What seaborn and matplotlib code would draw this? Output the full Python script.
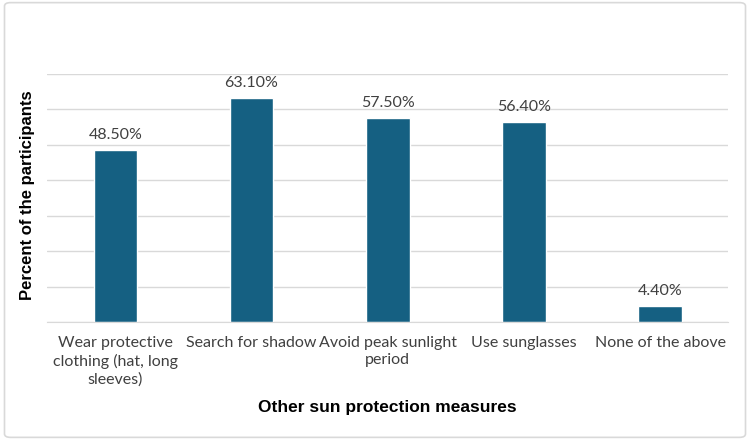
import matplotlib
matplotlib.use("Agg")
import matplotlib.pyplot as plt
import seaborn as sns
import pandas as pd
from matplotlib.patches import FancyBboxPatch

# ---- Data ----
measures = [
    "Wear protective\nclothing (hat, long\nsleeves)",
    "Search for shadow",
    "Avoid peak sunlight\nperiod",
    "Use sunglasses",
    "None of the above",
]
percent = [48.5, 63.1, 57.5, 56.4, 4.4]
value_labels = ["48.50%", "63.10%", "57.50%", "56.40%", "4.40%"]

df = pd.DataFrame({"Measure": measures, "Percent": percent})

sns.set_style("white")
plt.rcParams["font.family"] = ["Lato", "DejaVu Sans"]

fig = plt.figure(figsize=(7.5, 4.4), dpi=100)
ax = fig.add_axes([0.063, 0.268, 0.908, 0.564])

sns.barplot(data=df, x="Measure", y="Percent", color="#156082",
            width=0.32, saturation=1, ax=ax)

ax.set_ylim(0, 70)
ax.set_yticks(range(0, 71, 10))
ax.set_yticklabels([])
ax.tick_params(axis="y", length=0)
ax.tick_params(axis="x", length=0, labelsize=11.5, labelcolor="#404040", pad=10)
for t in ax.get_xticklabels():
    t.set_linespacing(1.3)
ax.grid(axis="y", color="#d9d9d9", linewidth=1)
ax.set_axisbelow(True)
for s in ["top", "right", "left"]:
    ax.spines[s].set_visible(False)
ax.spines["bottom"].set_color("#d9d9d9")

# value labels above bars
for i, (v, lab) in enumerate(zip(percent, value_labels)):
    ax.annotate(lab, (i, v), xytext=(0, 6), textcoords="offset points",
                ha="center", va="bottom", fontsize=11.5, color="#404040")

ax.set_xlabel("Other sun protection measures", fontsize=12.5, fontweight="bold",
              color="black", family="Liberation Sans", labelpad=10)
ax.set_ylabel("Percent of the participants", fontsize=12, fontweight="bold",
              color="black", family="Liberation Sans")
ax.yaxis.set_label_coords(-0.018, 0.51)

# chart border
border = FancyBboxPatch((0.006, 0.006), 0.988, 0.988,
                        boxstyle="round,pad=0,rounding_size=0.008",
                        transform=fig.transFigure, fill=False,
                        edgecolor="#d9d9d9", linewidth=1.2)
fig.patches.append(border)

fig.savefig("out.png", dpi=100)
